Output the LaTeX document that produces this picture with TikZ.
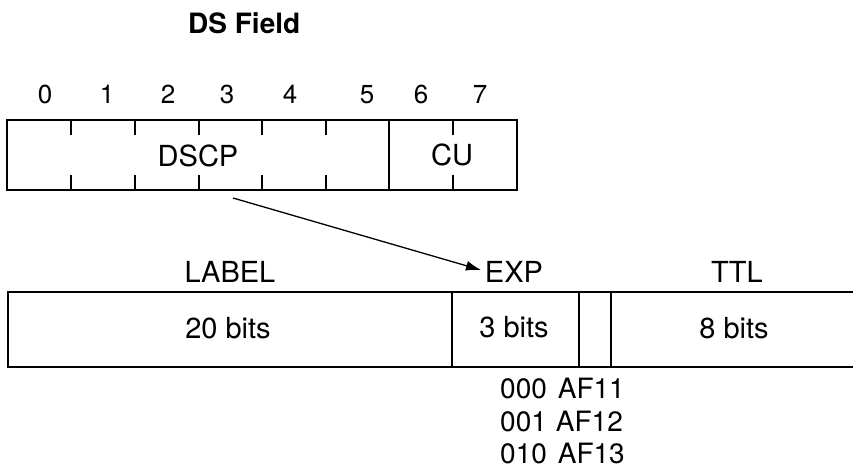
\documentclass[tikz,border=0pt]{standalone}
\usepackage{fontspec}
\setmainfont{TeX Gyre Heros}
\usetikzlibrary{arrows.meta}
\begin{document}
\begin{tikzpicture}[x=1pt,y=-1pt,
  frame/.style={line width=1.5pt},
  tickline/.style={line width=1.2pt},
  lbl/.style={anchor=base,inner sep=0pt,font=\fontsize{29}{33}\selectfont},
  num/.style={anchor=base,inner sep=0pt,font=\fontsize{26}{30}\selectfont},
  ttl/.style={anchor=base west,inner sep=0pt,font=\fontsize{28}{32}\selectfont\bfseries},
  code/.style={anchor=base west,inner sep=0pt,font=\fontsize{28}{32}\selectfont},
  conn/.style={line width=1.3pt,-{Latex[length=15pt,width=10pt]}}]
\useasboundingbox (0,0) rectangle (853,471);
% title
\node[ttl] (title) at (188,33) {DS Field};
% bit numbers
\node[num] (n0) at (45,103) {0};
\node[num] (n1) at (107,103) {1};
\node[num] (n2) at (168,103) {2};
\node[num] (n3) at (227,103) {3};
\node[num] (n4) at (290,103) {4};
\node[num] (n5) at (367,103) {5};
\node[num] (n6) at (421,103) {6};
\node[num] (n7) at (480,103) {7};
% DS field box
\draw[frame] (7,120) rectangle (517,190);
\draw[frame] (389,120) -- (389,190);
\foreach \x in {71,135,199,262,326,453}{
  \draw[tickline] (\x,120) -- (\x,135);
  \draw[tickline] (\x,190) -- (\x,175);
}
\node[lbl] (dscp) at (198,166) {DSCP};
\node[lbl] (cu) at (452,165) {CU};
% MPLS shim header
\draw[frame] (853,292) -- (8,292) -- (8,367) -- (853,367);
\draw[frame] (452,292) -- (452,367);
\draw[frame] (579,292) -- (579,367);
\draw[frame] (611,292) -- (611,367);
\node[lbl] (label) at (230,282) {LABEL};
\node[lbl] (exp) at (514,282) {EXP};
\node[lbl] (ttlf) at (737,282) {TTL};
\node[lbl] (b20) at (228,338) {20 bits};
\node[lbl] (b3) at (514,337) {3 bits};
\node[lbl] (b8) at (734,338) {8 bits};
% codes
\node[code] (c1) at (500,398) {000\hspace{11pt}AF11};
\node[code] (c2) at (500,431) {001\hspace{9pt}AF12};
\node[code] (c3) at (500,463) {010\hspace{11pt}AF13};
% arrow
\coordinate (astart) at (233,198);
\coordinate (aend) at (481,270);
\draw[conn] (astart) -- (aend);
\end{tikzpicture}
\end{document}
